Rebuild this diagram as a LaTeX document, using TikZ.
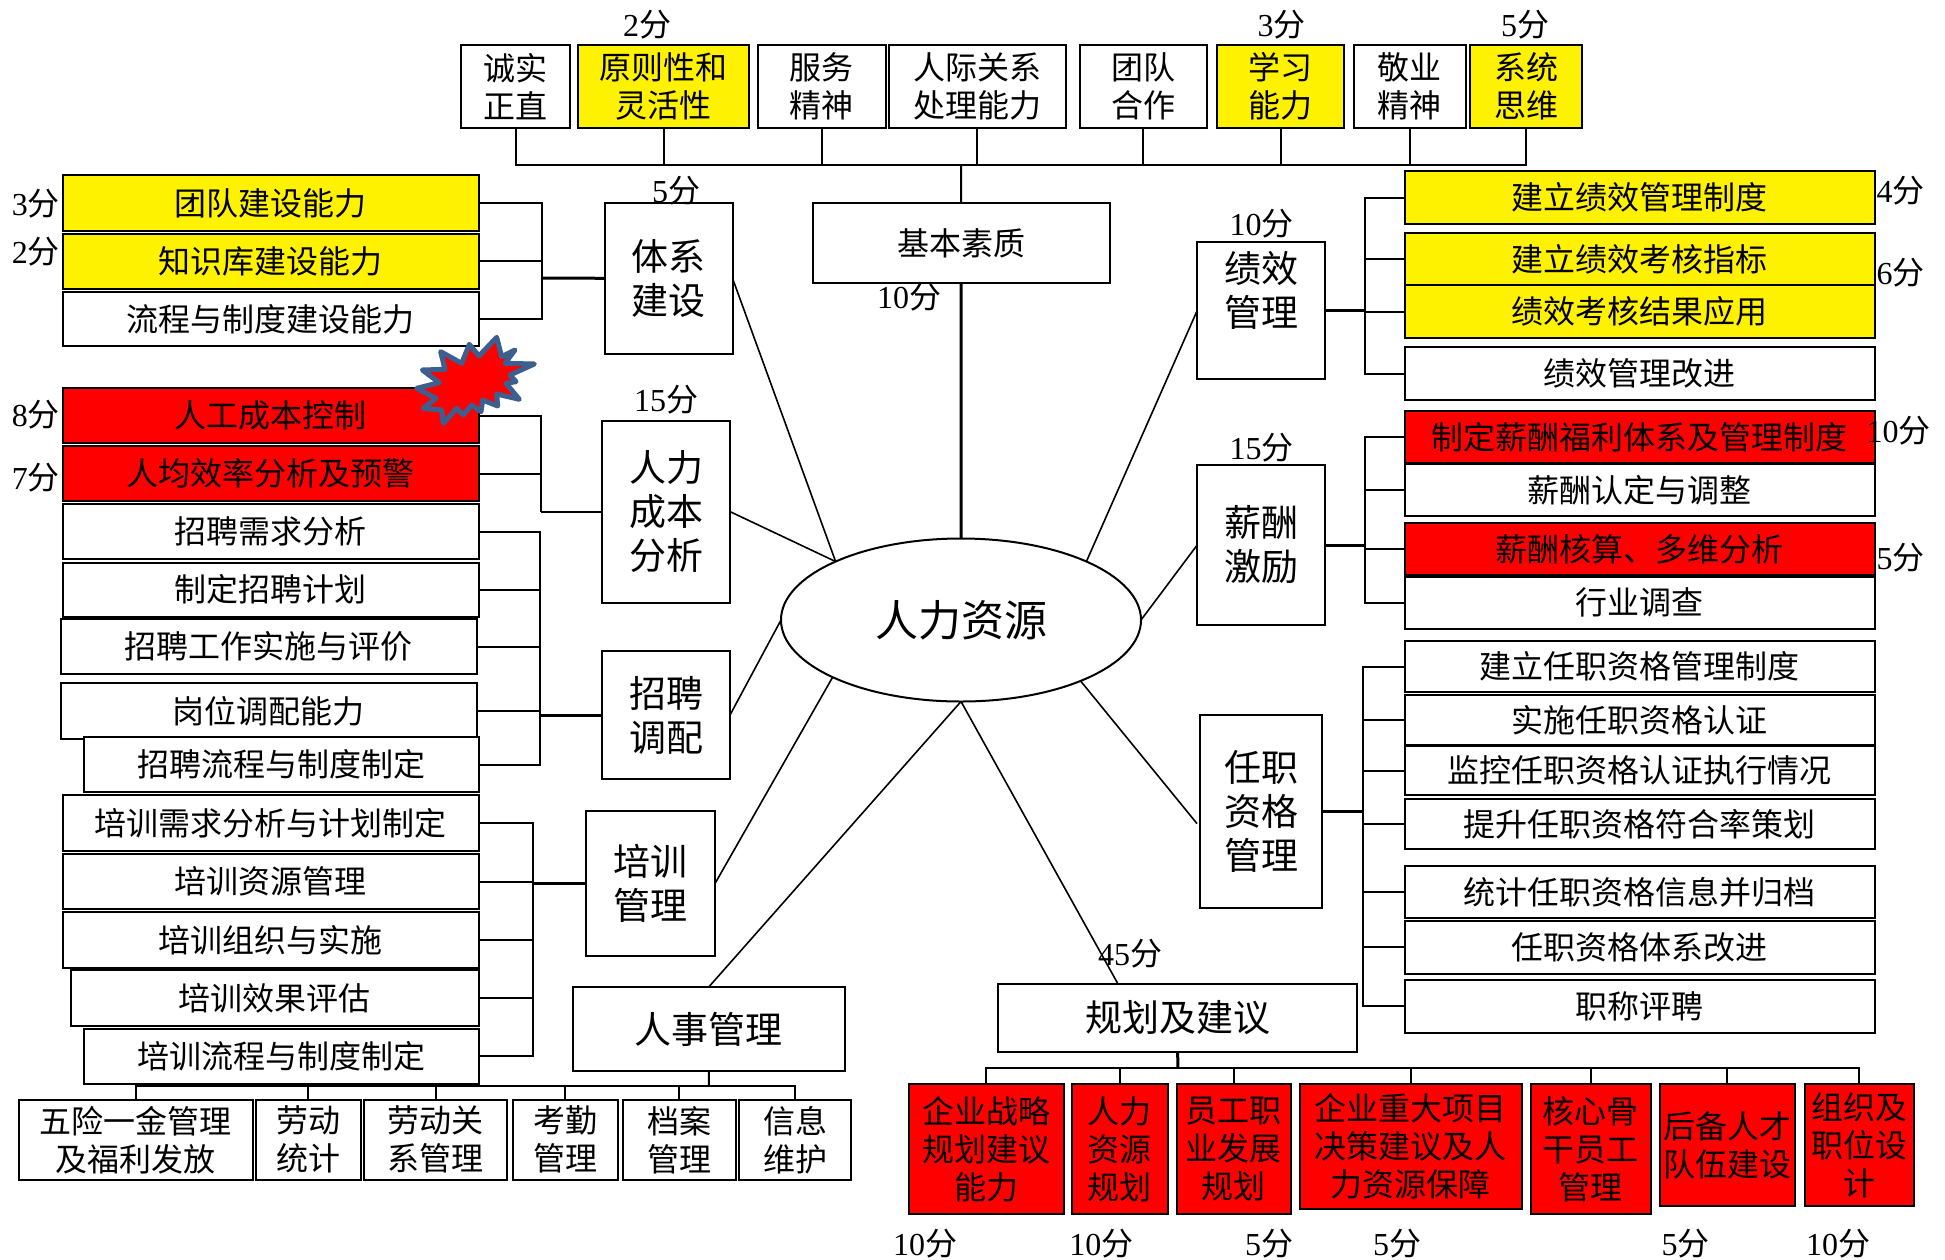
\documentclass[tikz,border=0pt]{standalone}
\usepackage{fontspec}
\usetikzlibrary{shapes.geometric}
\setmainfont{Liberation Serif}
\newfontfamily\cjk{Noto Sans CJK SC}
\tikzset{
  base/.style={draw=black,line width=2pt,inner sep=0pt,outer sep=0pt,align=center,fill=white,text=black},
  ts/.style={font=\cjk\fontsize{32}{38}\selectfont},
  tb/.style={font=\cjk\fontsize{37}{44}\selectfont},
  yel/.style={fill=yellow},
  rd/.style={fill=red},
  score/.style={inner sep=0pt,font=\rmfamily\fontsize{32}{38}\selectfont},
  link/.style={draw=black,line width=2pt},
  trunk/.style={draw=black,line width=3pt},
  spoke/.style={draw=black,line width=1.6pt}
}
\newcommand{\bx}[7][]{%
  \node[base,ts,#1,minimum width={(#5-#3)*1pt},minimum height={(#6-#4)*1pt}] (#2) at ({(#3+#5)/2},{(#4+#6)/2}) {#7};}
\newcommand{\lbl}[4]{\node[score] (#1) at (#2,#3) {#4{\cjk 分}};}
\begin{document}
\begin{tikzpicture}[x=1pt,y=-1pt]
\useasboundingbox[fill=white] (0,0) rectangle (1945,1259);
% centre
\node[base,ellipse,minimum width=360pt,minimum height=163pt,font=\cjk\fontsize{43}{50}\selectfont] (hr) at (961,620) {人力资源};
% top row
\bx{t1}{461}{45}{570}{128}{诚实\\正直}
\bx[yel]{t2}{578}{45}{749}{128}{原则性和\\灵活性}
\bx{t3}{757.5}{45}{886}{128}{服务\\精神}
\bx{t4}{889}{45}{1065.5}{128}{人际关系\\处理能力}
\bx{t5}{1079.6}{45}{1207.2}{128}{团队\\合作}
\bx[yel]{t6}{1217.3}{45}{1344.4}{128}{学习\\能力}
\bx{t7}{1354}{45}{1465.5}{128}{敬业\\精神}
\bx[yel]{t8}{1470}{45}{1582}{128}{系统\\思维}
\bx{jbsz}{812.5}{203}{1109.7}{283}{基本素质}
% section boxes
\bx[tb]{txjs}{605}{203}{732.5}{353.5}{体系\\建设}
\bx[tb]{rlcb}{602}{420.6}{730}{602.6}{人力\\成本\\分析}
\bx[tb]{zpdp}{602}{651}{730}{779}{招聘\\调配}
\bx[tb]{pxgl}{586}{811}{715}{956}{培训\\管理}
\bx[tb]{rsgl}{572.5}{987}{845}{1071}{人事管理}
\bx[tb]{ghjy}{998.2}{983.6}{1357}{1052}{规划及建议}
\bx[tb]{rzzg}{1200.2}{715}{1322.4}{907.6}{任职\\资格\\管理}
\bx[tb]{xclj}{1197.2}{465}{1324.8}{625}{薪酬\\激励}
\bx[tb]{jxgl}{1197.2}{242}{1324.8}{379}{绩效\\管理\\~}
% left column
\bx[yel]{a1}{62.5}{175}{479}{231}{团队建设能力}
\bx[yel]{a2}{62.5}{233.5}{479}{289}{知识库建设能力}
\bx{a3}{62.5}{292}{479}{346}{流程与制度建设能力}
\bx[rd]{b1}{62.5}{388}{479}{443}{人工成本控制}
\bx[rd]{b2}{62.5}{446}{479}{501}{人均效率分析及预警}
\bx{c1}{62.5}{504}{479}{559}{招聘需求分析}
\bx{c2}{62.5}{562.5}{479}{617}{制定招聘计划}
\bx{c3}{60.6}{619}{477}{674}{招聘工作实施与评价}
\bx{c4}{60.6}{683.4}{477}{739}{岗位调配能力}
\bx{c5}{84}{737}{479}{792}{招聘流程与制度制定}
\bx{d1}{62.5}{795}{479}{850.6}{培训需求分析与计划制定}
\bx{d2}{62.5}{854}{479}{909}{培训资源管理}
\bx{d3}{62.5}{912}{479}{967.5}{培训组织与实施}
\bx{d4}{70.6}{970}{479}{1026}{培训效果评估}
\bx{d5}{84}{1028.5}{479}{1084}{培训流程与制度制定}
% bottom left
\bx{e1}{19}{1100}{252.5}{1179.6}{五险一金管理\\及福利发放}
\bx{e2}{255.6}{1100}{360.6}{1179.6}{劳动\\统计}
\bx{e3}{364}{1100}{507}{1179.6}{劳动关\\系管理}
\bx{e4}{512.5}{1100}{617.5}{1179.6}{考勤\\管理}
\bx{e5}{623}{1100}{735.6}{1179.6}{档案\\管理}
\bx{e6}{739}{1100}{851}{1179.6}{信息\\维护}
% bottom right
\bx[rd]{f1}{909}{1084}{1063.5}{1214}{企业战略\\规划建议\\能力}
\bx[rd]{f2}{1071.6}{1084}{1168}{1214}{人力\\资源\\规划}
\bx[rd]{f3}{1176.7}{1084}{1290.6}{1214}{员工职\\业发展\\规划}
\bx[rd]{f4}{1299.7}{1084}{1521.8}{1209}{企业重大项目\\决策建议及人\\力资源保障}
\bx[rd]{f5}{1530.8}{1084}{1651}{1214}{核心骨\\干员工\\管理}
\bx[rd]{f6}{1659.5}{1084}{1795}{1206}{后备人才\\队伍建设}
\bx[rd]{f7}{1805}{1084}{1913.7}{1206}{组织及\\职位设\\计}
% right column
\bx[yel]{g1}{1405.2}{171}{1874.5}{224}{建立绩效管理制度}
\bx[yel]{g2}{1405.2}{233}{1874.5}{285}{建立绩效考核指标}
\bx[yel]{g3}{1405.2}{285}{1874.5}{338}{绩效考核结果应用}
\bx{g4}{1405.2}{347}{1874.5}{400}{绩效管理改进}
\bx[rd]{h1}{1405.2}{410.6}{1874.5}{463}{制定薪酬福利体系及管理制度}
\bx{h2}{1405.2}{464}{1874.5}{516}{薪酬认定与调整}
\bx[rd]{h3}{1405.2}{523}{1874.5}{575}{薪酬核算、多维分析}
\bx{h4}{1405.2}{576.5}{1874.5}{629}{行业调查}
\bx{k1}{1405.2}{641}{1874.5}{692}{建立任职资格管理制度}
\bx{k2}{1405.2}{695}{1874.5}{744.5}{实施任职资格认证}
\bx{k3}{1405.2}{746}{1874.5}{795}{监控任职资格认证执行情况}
\bx{k4}{1405.2}{799}{1874.5}{848.6}{提升任职资格符合率策划}
\bx{k5}{1405.2}{866}{1874.5}{918}{统计任职资格信息并归档}
\bx{k6}{1405.2}{921}{1874.5}{973.5}{任职资格体系改进}
\bx{k7}{1405.2}{980}{1874.5}{1032.6}{职称评聘}
% junctions
\coordinate (jt) at (961,165);
\coordinate (ja) at (542,278.2);
\coordinate (jb) at (540.6,511.6);
\coordinate (jc) at (540,715);
\coordinate (jd) at (532.5,883.5);
\coordinate (je) at (709,1085.6);
\coordinate (jf) at (1178,1068);
\coordinate (jg) at (1365,310.5);
\coordinate (jh) at (1365,545);
\coordinate (jk) at (1363,811.3);
\coordinate (ghtop) at (1117.8,983.6);
\coordinate (rzside) at (1197,823.6);
% top tree
\foreach \n in {t1,t2,t3,t4,t5,t6,t7,t8} \draw[link] (\n.south) |- (jt);
\draw[link] (jt) -- (jbsz.north);
\draw[trunk] (jbsz.south) -- (hr.north);
% left trees
\foreach \n in {a1,a2,a3} \draw[link] (\n.east) -| (ja);
\draw[trunk] (ja) -- (txjs.west);
\foreach \n in {b1,b2} \draw[link] (\n.east) -| (jb);
\draw[link] (jb) -- (rlcb.west);
\foreach \n in {c1,c2,c3,c4,c5} \draw[link] (\n.east) -| (jc);
\draw[trunk] (jc) -- (zpdp.west);
\foreach \n in {d1,d2,d3,d4,d5} \draw[link] (\n.east) -| (jd);
\draw[trunk] (jd) -- (pxgl.west);
\foreach \n in {e1,e2,e3,e4,e5,e6} \draw[link] (\n.north) |- (je);
\draw[link] (je) -- (rsgl.south);
% bottom right tree
\foreach \n in {f1,f2,f3,f4,f5,f6,f7} \draw[link] (\n.north) |- (jf);
\draw[trunk] (jf) -- (ghjy.south);
% right trees
\foreach \n in {g1,g2,g3,g4} \draw[link] (\n.west) -| (jg);
\draw[trunk] (jg) -- (jxgl.east);
\foreach \n in {h1,h2,h3,h4} \draw[link] (\n.west) -| (jh);
\draw[trunk] (jh) -- (xclj.east);
\foreach \n in {k1,k2,k3,k4,k5,k6,k7} \draw[link] (\n.west) -| (jk);
\draw[trunk] (jk) -- (rzzg.east);
% spokes
\draw[spoke] (txjs.east) -- (hr.155);
\draw[spoke] (rlcb.east) -- (hr.155);
\draw[spoke] (zpdp.east) -- (hr.west);
\draw[spoke] (pxgl.east) -- (hr.204);
\draw[spoke] (rsgl.north) -- (hr.south);
\draw[spoke] (ghtop) -- (hr.south);
\draw[spoke] (rzside) -- (hr.333);
\draw[spoke] (xclj.west) -- (hr.east);
\draw[spoke] (jxgl.west) -- (hr.25);
% score labels
\lbl{s1}{647}{25}{2}
\lbl{s2}{1281.6}{25}{3}
\lbl{s3}{1525}{25}{5}
\lbl{s4}{36}{204}{3}
\lbl{s5}{36}{252}{2}
\lbl{s6}{36}{415}{8}
\lbl{s7}{36}{478}{7}
\lbl{s8}{676}{191}{5}
\lbl{s9}{666}{400}{15}
\lbl{s10}{909}{296.5}{10}
\lbl{s11}{1261.5}{224}{10}
\lbl{s12}{1261.5}{448}{15}
\lbl{s13}{1900.7}{191}{4}
\lbl{s14}{1900.7}{273}{6}
\lbl{s15}{1898.7}{431}{10}
\lbl{s16}{1900.7}{558}{5}
\lbl{s17}{1130}{953.4}{45}
\lbl{s18}{925}{1244}{10}
\lbl{s19}{1101.3}{1244}{10}
\lbl{s20}{1269}{1244}{5}
\lbl{s21}{1397}{1244}{5}
\lbl{s22}{1685.6}{1244}{5}
\lbl{s23}{1838}{1244}{10}
% burst
\definecolor{burstblue}{HTML}{3C5F8F}
\draw[fill=red,draw=burstblue,line width=5pt,line join=round,x=0.3333pt,y=-0.3333pt,shift={(400pt,-320pt)}]
 (290,52)--(305,110)--(345,90)--(315,130)--(403,132)--(330,165)--(348,185)--(318,190)--(358,238)--(290,222)--(293,258)--(248,240)--(243,275)--(215,255)--(190,285)--(170,265)--(130,310)--(125,270)--(70,265)--(108,235)--(50,205)--(118,188)--(67,150)--(135,148)--(122,95)--(185,130)--(208,73)--(237,108)--cycle;
\end{tikzpicture}
\end{document}
